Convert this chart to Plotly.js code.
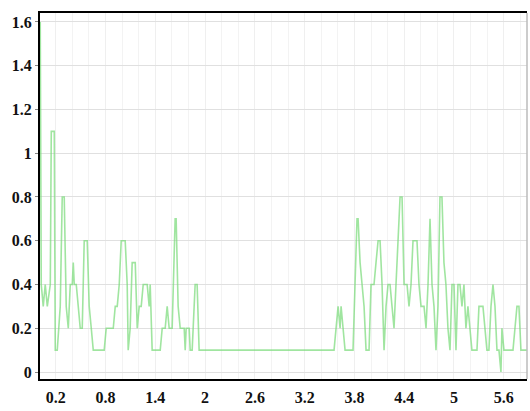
<!DOCTYPE html>
<html>
<head>
<meta charset="utf-8">
<script src="https://cdn.plot.ly/plotly-3.0.1.min.js"></script>
<style>
  html, body { margin: 0; padding: 0; background: #fff; }
  #chart { width: 530px; height: 411px; }
</style>
</head>
<body>
<div id="chart"></div>
<script>
// Series (x in data units, y values)
const xValues = [
  0.013, 0.025, 0.049, 0.073, 0.098, 0.134, 0.146, 0.182, 0.194, 0.218,
  0.254, 0.278, 0.302, 0.326, 0.351, 0.375, 0.399, 0.411, 0.423, 0.447,
  0.471, 0.495, 0.519, 0.543, 0.579, 0.603, 0.628, 0.652, 0.784, 0.808,
  0.893, 0.917, 0.941, 0.965, 0.989, 1.037, 1.061, 1.073, 1.097, 1.121,
  1.158, 1.182, 1.206, 1.230, 1.254, 1.302, 1.326, 1.338, 1.362, 1.459,
  1.483, 1.519, 1.543, 1.567, 1.603, 1.639, 1.651, 1.675, 1.700, 1.748,
  1.760, 1.772, 1.808, 1.820, 1.844, 1.880, 1.904, 1.928, 3.554, 3.579,
  3.603, 3.627, 3.639, 3.663, 3.687, 3.783, 3.807, 3.831, 3.844, 3.868,
  3.892, 3.916, 3.940, 3.976, 4.000, 4.036, 4.060, 4.085, 4.109, 4.133,
  4.157, 4.181, 4.205, 4.229, 4.253, 4.277, 4.301, 4.325, 4.350, 4.374,
  4.398, 4.434, 4.458, 4.482, 4.506, 4.554, 4.578, 4.603, 4.639, 4.663,
  4.687, 4.711, 4.735, 4.759, 4.783, 4.807, 4.831, 4.855, 4.879, 4.903,
  4.927, 4.952, 4.976, 5.000, 5.024, 5.048, 5.072, 5.096, 5.120, 5.144,
  5.168, 5.192, 5.216, 5.277, 5.301, 5.349, 5.373, 5.397, 5.421, 5.446,
  5.470, 5.494, 5.518, 5.542, 5.566, 5.578, 5.602, 5.711, 5.735, 5.759,
  5.783, 5.807, 5.879
];
const yValues = [
  1.6, 0.4, 0.3, 0.4, 0.3, 0.4, 1.1, 1.1, 0.1, 0.1,
  0.3, 0.8, 0.8, 0.3, 0.2, 0.4, 0.4, 0.5, 0.4, 0.4,
  0.3, 0.2, 0.2, 0.6, 0.6, 0.3, 0.2, 0.1, 0.1, 0.2,
  0.2, 0.3, 0.3, 0.4, 0.6, 0.6, 0.4, 0.1, 0.2, 0.5,
  0.5, 0.2, 0.3, 0.3, 0.4, 0.4, 0.3, 0.4, 0.1, 0.1,
  0.2, 0.2, 0.3, 0.2, 0.2, 0.7, 0.7, 0.3, 0.2, 0.2,
  0.1, 0.2, 0.2, 0.1, 0.1, 0.4, 0.4, 0.1, 0.1, 0.2,
  0.3, 0.2, 0.3, 0.2, 0.1, 0.1, 0.4, 0.7, 0.7, 0.5,
  0.4, 0.3, 0.1, 0.1, 0.4, 0.4, 0.5, 0.6, 0.6, 0.4,
  0.1, 0.3, 0.4, 0.4, 0.3, 0.2, 0.4, 0.6, 0.8, 0.8,
  0.4, 0.4, 0.3, 0.4, 0.6, 0.6, 0.4, 0.3, 0.3, 0.2,
  0.4, 0.7, 0.4, 0.3, 0.1, 0.3, 0.8, 0.8, 0.5, 0.4,
  0.2, 0.1, 0.4, 0.4, 0.1, 0.4, 0.4, 0.3, 0.4, 0.2,
  0.3, 0.2, 0.1, 0.1, 0.3, 0.3, 0.2, 0.1, 0.1, 0.3,
  0.4, 0.3, 0.1, 0.1, 0.0, 0.2, 0.1, 0.1, 0.2, 0.3,
  0.3, 0.1, 0.1
];
const xTickVals = [0.2, 0.8, 1.4, 2, 2.6, 3.2, 3.8, 4.4, 5, 5.6];
const xTickText = ['0.2', '0.8', '1.4', '2', '2.6', '3.2', '3.8', '4.4', '5', '5.6'];
const yTickVals = [0, 0.2, 0.4, 0.6, 0.8, 1, 1.2, 1.4, 1.6];
const yTickText = ['0', '0.2', '0.4', '0.6', '0.8', '1', '1.2', '1.4', '1.6'];

const fontFamily = '"Liberation Serif", "Times New Roman", serif';

const trace = {
  type: 'scatter',
  mode: 'lines',
  x: xValues,
  y: yValues,
  line: { color: 'rgba(120,218,120,0.7)', width: 1.6 },
  hoverinfo: 'skip'
};

const layout = {
  width: 530,
  height: 411,
  margin: { l: 40, r: 3, t: 13, b: 32, pad: 0 },
  paper_bgcolor: '#ffffff',
  plot_bgcolor: '#ffffff',
  showlegend: false,
  xaxis: {
    range: [0.01, 5.88],
    tickmode: 'array',
    tickvals: xTickVals,
    ticktext: xTickText,
    ticks: '',
    ticklabelstandoff: 3,
    tickfont: { family: fontFamily, size: 16, color: '#111', weight: 'bold' },
    showgrid: true,
    gridcolor: '#efefef',
    gridwidth: 1,
    minor: { dtick: 0.2, tick0: 0, showgrid: true, gridcolor: '#f3f3f3', gridwidth: 1, ticks: '' },
    zeroline: false,
    showline: true,
    linecolor: '#000',
    linewidth: 2,
    mirror: true,
    fixedrange: true
  },
  yaxis: {
    range: [-0.032, 1.641],
    tickmode: 'array',
    tickvals: yTickVals,
    ticktext: yTickText,
    ticks: 'outside',
    ticklen: 3,
    tickcolor: '#888',
    tickfont: { family: fontFamily, size: 16, color: '#111', weight: 'bold' },
    showgrid: true,
    gridcolor: '#e0e0e0',
    gridwidth: 1,
    zeroline: false,
    showline: true,
    linecolor: '#000',
    linewidth: 2,
    fixedrange: true
  },
  shapes: [
    { type: 'line', xref: 'paper', yref: 'paper', x0: 1, x1: 1, y0: 0, y1: 1,
      line: { color: '#bbbbbb', width: 1.5 } }
  ]
};

Plotly.newPlot('chart', [trace], layout, { displayModeBar: false, staticPlot: true });
</script>
</body>
</html>
